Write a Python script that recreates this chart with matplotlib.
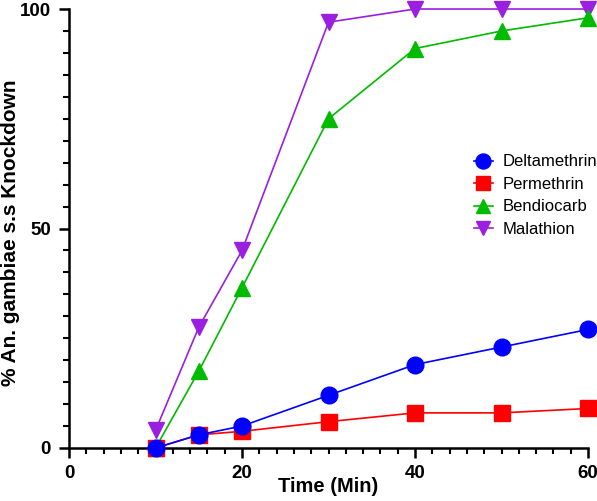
import matplotlib.pyplot as plt
from matplotlib.ticker import MultipleLocator

plt.rcParams['font.family'] = ['Liberation Sans', 'DejaVu Sans']

# ── Datos ─────────────────────────────────────────────
tiempo = [10, 15, 20, 30, 40, 50, 60]
deltametrina = [0, 3, 5, 12, 19, 23, 27]
permetrina = [0, 3, 3.8, 6, 8, 8, 9]
bendiocarb = [0, 17.5, 36.5, 75, 91, 95, 98]
malation = [4, 27.5, 45, 97, 100, 100, 100]

series = [
    ('Deltamethrin', deltametrina, '#0000FF', 'o', 12, 5),
    ('Permethrin', permetrina, '#FF0000', 's', 11, 4),
    ('Bendiocarb', bendiocarb, '#00BB00', '^', 11, 3),
    ('Malathion', malation, '#9A1FE0', 'v', 11, 2),
]

fig = plt.figure(figsize=(5.97, 5.01), dpi=100)
ax = fig.add_axes([0.1156, 0.1058, 0.8694, 0.8762])

for nombre, valores, color, marcador, ms, z in series:
    ax.plot(tiempo, valores, color=color, marker=marcador, markersize=ms,
            linewidth=1.2, label=nombre, zorder=z, clip_on=False)

ax.set_xlim(0, 60)
ax.set_ylim(0, 100)
ax.xaxis.set_major_locator(MultipleLocator(20))
ax.xaxis.set_minor_locator(MultipleLocator(2))
ax.yaxis.set_major_locator(MultipleLocator(50))
ax.yaxis.set_minor_locator(MultipleLocator(5))

for lado in ['top', 'right']:
    ax.spines[lado].set_visible(False)
for lado in ['left', 'bottom']:
    ax.spines[lado].set_linewidth(1.8)

ax.tick_params(which='major', length=7, width=1.8, labelsize=13.5)
ax.tick_params(axis='y', which='major', pad=6)
ax.tick_params(axis='x', which='major', pad=5)
ax.tick_params(which='minor', length=4, width=1.5)
for lbl in ax.get_xticklabels() + ax.get_yticklabels():
    lbl.set_fontweight('bold')

ax.set_xlabel('Time (Min)', fontsize=14.5, fontweight='bold')
ax.set_ylabel('% An. gambiae s.s Knockdown', fontsize=15, fontweight='bold')
ax.xaxis.set_label_coords(0.5, -0.066)
ax.yaxis.set_label_coords(-0.112, 0.49)
ax.yaxis.label.set_verticalalignment('center')

ax.legend(loc='upper left', bbox_to_anchor=(0.752, 0.703), frameon=False,
          fontsize=12, handlelength=1.1, handletextpad=0.6,
          labelspacing=0.45, markerscale=0.9)

plt.savefig('out.png', dpi=100)
